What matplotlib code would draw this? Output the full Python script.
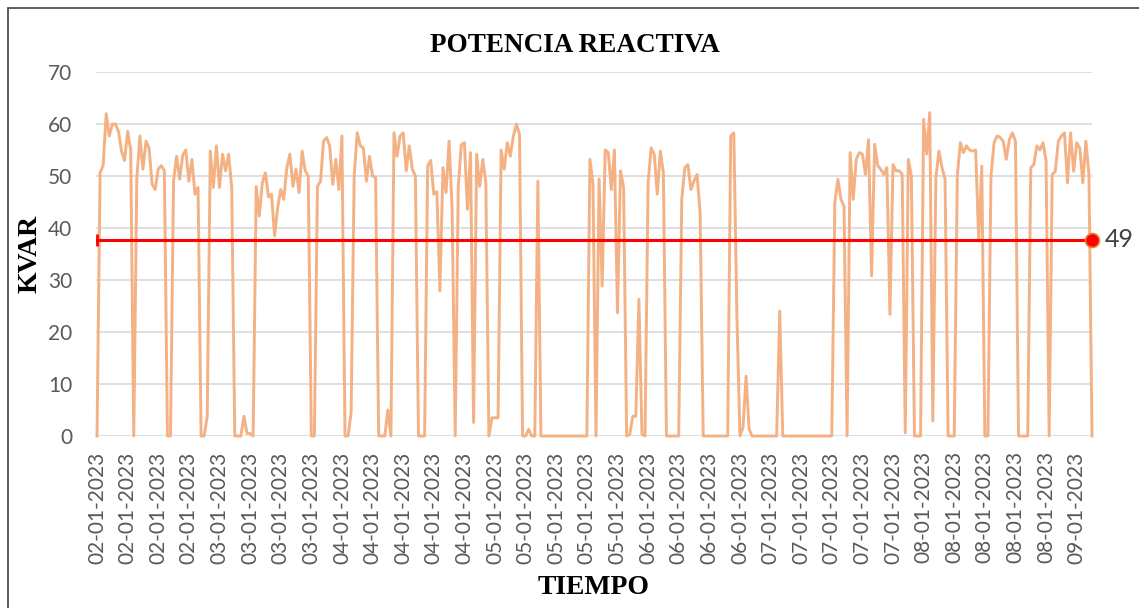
import numpy as np
import matplotlib
matplotlib.use('Agg')
from matplotlib import pyplot as plt
from matplotlib.patches import Rectangle

# kVAr readings, one every sample; a date label every 10 samples
kvar = [
    0, 50.6, 52, 62, 57.7, 60, 60, 58.6, 54.8, 53,
    58.6, 55, 0, 49.4, 57.7, 51.3, 56.7, 55.4, 48.4, 47.4,
    51.3, 52, 51, 0, 0, 49, 53.8, 49.4, 54, 55,
    49, 53.2, 46.5, 47.8, 0, 0, 3.8, 54.8, 47.8, 55.8,
    47.8, 54.2, 51, 54.2, 47.8, 0, 0, 0, 3.8, 0.5,
    0.5, 0, 48, 42.3, 48.7, 50.6, 46, 46.5, 38.5, 43.9,
    47.4, 45.5, 51.6, 54.2, 48, 51.3, 46.8, 54.8, 51, 50,
    0, 0, 48, 49, 56.7, 57.4, 55.8, 48.4, 53.2, 47.4,
    57.7, 0, 0, 4.5, 50, 58.3, 55.8, 55.4, 49, 53.8,
    50, 49.7, 0, 0, 0, 5, 0, 58.3, 53.8, 57.7,
    58.3, 51, 55.8, 51.3, 50, 0, 0, 0, 51.9, 53,
    46.5, 47, 27.9, 51.6, 46.8, 56.7, 43.3, 0, 48, 56,
    56.4, 43.6, 54.5, 2.6, 54.2, 48, 53.2, 48.7, 0, 3.5,
    3.5, 3.5, 55, 51.3, 56.4, 53.8, 57.7, 60, 58, 0,
    0, 1.3, 0, 0, 49, 0, 0, 0, 0, 0,
    0, 0, 0, 0, 0, 0, 0, 0, 0, 0,
    0, 53.2, 48.4, 0, 49.4, 28.8, 55, 54.5, 47.4, 55,
    23.7, 51, 47.8, 0, 0.3, 3.8, 3.8, 26.3, 0.3, 0,
    48.7, 55.4, 54.2, 46.5, 54.8, 50.6, 0, 0, 0, 0,
    0, 45.5, 51.6, 52.2, 47.4, 49, 50.3, 42.9, 0, 0,
    0, 0, 0, 0, 0, 0, 0, 57.7, 58.3, 23.4,
    0, 1.6, 11.5, 1.3, 0, 0, 0, 0, 0, 0,
    0, 0, 0, 24, 0, 0, 0, 0, 0, 0,
    0, 0, 0, 0, 0, 0, 0, 0, 0, 0,
    0, 44.9, 49.4, 45.5, 44.2, 0, 54.5, 45.5, 53.2, 54.5,
    54.2, 50.3, 57, 30.8, 56.1, 52, 51.3, 50.3, 51.6, 23.4,
    52.2, 51, 51, 50.3, 0.6, 53.2, 50, 0, 0, 0,
    60.9, 54.2, 62.2, 2.9, 49.7, 54.8, 51.6, 49.4, 0, 0,
    0, 50, 56.4, 54.5, 55.8, 55, 54.8, 55, 37.5, 51.9,
    0, 0, 50, 56.4, 57.7, 57.4, 56.7, 53.2, 57, 58.3,
    56.7, 0, 0, 0, 0, 51.6, 52.2, 55.8, 55, 56.4,
    52.9, 0, 50.3, 50.9, 56.7, 57.7, 58.3, 48.7, 58.3, 50.9,
    56.4, 55.4, 48.7, 56.7, 50.3, 0,
]

tick_step = 10
day_labels = ['02'] * 4 + ['03'] * 4 + ['04'] * 5 + ['05'] * 5 + ['06'] * 4 + ['07'] * 5 + ['08'] * 5 + ['09']
tick_labels = [d + '-01-2023' for d in day_labels]

ref_level = 37.7
ref_label = '49'

n = len(kvar)
x = np.arange(n)

fig = plt.figure(figsize=(11.39, 6.08), dpi=100)
ax = fig.add_axes([96 / 1139, 1 - 436 / 608, (1092 - 96) / 1139, (436 - 72) / 608])

ax.plot(x, kvar, color='#F4B183', lw=2.1, clip_on=False, zorder=2)

ax.plot([0, n - 1], [ref_level, ref_level], color='#FF0000', lw=2.2, zorder=3)
ax.plot([0], [ref_level], marker='|', color='#FF0000', markersize=8, mew=2, zorder=3, clip_on=False)
ax.plot([n - 1], [ref_level], marker='o', markersize=10, markerfacecolor='#FF0000',
        markeredgecolor='#ED7D31', mew=1.2, zorder=4, clip_on=False)
ax.annotate(ref_label, (n - 1, ref_level), xytext=(9, 0), textcoords='offset points',
            va='center', ha='left', fontsize=18, color='#404040', family='Lato')

ax.set_xlim(-0.33, n - 1)
ax.set_ylim(0, 70)
ax.set_yticks(np.arange(0, 71, 10))
ax.set_xticks(np.arange(0, n, tick_step))
ax.set_xticklabels(tick_labels, rotation=90)
ax.grid(axis='y', color='#D9D9D9', lw=1.2)
ax.set_axisbelow(True)
for s in ax.spines.values():
    s.set_visible(False)
ax.tick_params(axis='both', length=0, labelcolor='#595959', labelsize=15)
ax.tick_params(axis='y', pad=17)
ax.tick_params(axis='x', pad=11)
for lab in ax.get_xticklabels() + ax.get_yticklabels():
    lab.set_family('Lato')

fig.text(575 / 1139, 1 - 45 / 608, 'POTENCIA REACTIVA', ha='center', va='center',
         family='Liberation Serif', fontweight='bold', fontsize=19.5, color='black')
fig.text(30 / 1139, 1 - 254 / 608, 'KVAR', ha='center', va='center', rotation=90,
         family='Liberation Serif', fontweight='bold', fontsize=20, color='black')
fig.text(594 / 1139, 1 - 588 / 608, 'TIEMPO', ha='center', va='center',
         family='Liberation Serif', fontweight='bold', fontsize=20, color='black')

fig.patches.append(Rectangle((8 / 1139, -0.1), 1.2, 1 - 8 / 608 + 0.1, transform=fig.transFigure,
                             fill=False, edgecolor='#404040', lw=1.2))

fig.savefig('out.png', dpi=100)
